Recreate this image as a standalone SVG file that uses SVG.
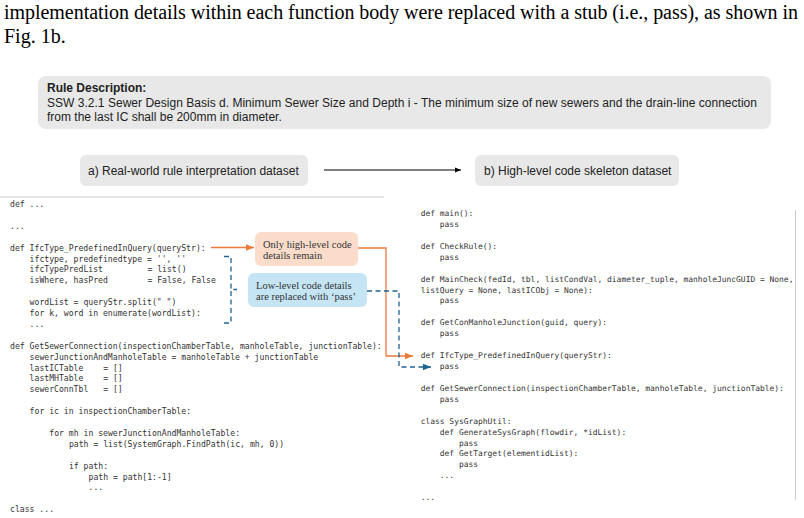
<svg xmlns="http://www.w3.org/2000/svg" width="804" height="518" viewBox="0 0 804 518">
<style>
.para{font-family:"Liberation Serif","Times New Roman",serif;font-size:20px;fill:#000}
.sans{font-family:"Liberation Sans",Arial,sans-serif;font-size:12px;fill:#222}
.bold{font-weight:bold}
.code{font-family:"DejaVu Sans Mono",monospace;fill:#333}
.lc{font-size:8.15px}
.rc{font-size:7.95px}
.note{font-family:"Liberation Serif","Times New Roman",serif;font-size:10.5px;fill:#333}
.gbox{fill:#e8e8e8}
</style>
<defs>
<marker id="ao" viewBox="0 0 10 10" refX="10" refY="5" markerWidth="8" markerHeight="8" markerUnits="userSpaceOnUse" orient="auto"><path d="M0,1 L10,5 L0,9 z" fill="#ec7a3a"/></marker>
<marker id="ab" viewBox="0 0 10 10" refX="10" refY="5" markerWidth="8" markerHeight="8" markerUnits="userSpaceOnUse" orient="auto"><path d="M0,1 L10,5 L0,9 z" fill="#1f6391"/></marker>
<marker id="ak" viewBox="0 0 10 10" refX="10" refY="5" markerWidth="6" markerHeight="6" markerUnits="userSpaceOnUse" orient="auto"><path d="M0,1 L10,5 L0,9 z" fill="#000"/></marker>
</defs>

<g id="paragraph">
<text class="para" x="4" y="19" textLength="794" lengthAdjust="spacing">implementation details within each function body were replaced with a stub (i.e., pass), as shown in</text>
<text class="para" x="4" y="43">Fig. 1b.</text>
</g>

<g id="rule">
<rect class="gbox" x="38" y="76" width="733" height="53" rx="8"/>
<text class="sans bold" x="47" y="92">Rule Description:</text>
<text class="sans" x="47" y="106.5" textLength="710" lengthAdjust="spacing">SSW 3.2.1 Sewer Design Basis d. Minimum Sewer Size and Depth i - The minimum size of new sewers and the drain-line connection</text>
<text class="sans" x="47" y="121">from the last IC shall be 200mm in diameter.</text>
</g>

<g id="dataset-a">
<rect class="gbox" x="80" y="155" width="228" height="31" rx="6"/>
<text class="sans" x="88" y="174.5">a) Real-world rule interpretation dataset</text>
</g>
<g id="dataset-b">
<rect class="gbox" x="475" y="155" width="204" height="31" rx="6"/>
<text class="sans" x="484" y="174.5">b) High-level code skeleton dataset</text>
</g>

<g id="frames">
<line x1="0" y1="197" x2="384" y2="197" stroke="#cfcfcf" stroke-width="1"/>
<line x1="795.5" y1="210" x2="795.5" y2="500" stroke="#cfcfcf" stroke-width="1"/>
</g>

<g id="code-left" class="code lc">
<text x="10" y="207">def ...</text>
<text x="10" y="228.8">...</text>
<text x="10" y="250.6">def IfcType_PredefinedInQuery(queryStr):</text>
<text x="29.6" y="261.5">ifctype, predefinedtype = '', ''</text>
<text x="29.6" y="272.4">ifcTypePredList<tspan x="147.4">= list()</tspan></text>
<text x="29.6" y="283.3">isWhere, hasPred<tspan x="147.4">= False, False</tspan></text>
<text x="29.6" y="305.1">wordList = queryStr.split(" ")</text>
<text x="29.6" y="316">for k, word in enumerate(wordList):</text>
<text x="29.6" y="326.9">...</text>
<text x="10" y="348.7">def GetSewerConnection(inspectionChamberTable, manholeTable, junctionTable):</text>
<text x="29.6" y="359.6">sewerJunctionAndManholeTable = manholeTable + junctionTable</text>
<text x="29.6" y="370.5">lastICTable<tspan x="103.2">= []</tspan></text>
<text x="29.6" y="381.4">lastMHTable<tspan x="103.2">= []</tspan></text>
<text x="29.6" y="392.3">sewerConnTbl<tspan x="103.2">= []</tspan></text>
<text x="29.6" y="414.1">for ic in inspectionChamberTable:</text>
<text x="49.25" y="435.9">for mh in sewerJunctionAndManholeTable:</text>
<text x="68.9" y="446.8">path = list(SystemGraph.FindPath(ic, mh, 0))</text>
<text x="68.9" y="468.6">if path:</text>
<text x="88.5" y="479.5">path = path[1:-1]</text>
<text x="88.5" y="490.4">...</text>
<text x="10" y="512.2">class ...</text>
</g>

<g id="code-right" class="code rc">
<text x="420.7" y="216">def main():</text>
<text x="439.8" y="226.9">pass</text>
<text x="420.7" y="248.8">def CheckRule():</text>
<text x="439.8" y="259.7">pass</text>
<text x="420.7" y="281.6">def MainCheck(fedId, tbl, listCondVal, diameter_tuple, manholeJuncGUID = None,</text>
<text x="420.7" y="292.5">listQuery = None, lastICObj = None):</text>
<text x="439.8" y="303.4">pass</text>
<text x="420.7" y="325.3">def GetConManholeJunction(guid, query):</text>
<text x="439.8" y="336.2">pass</text>
<text x="420.7" y="358.1">def IfcType_PredefinedInQuery(queryStr):</text>
<text x="439.8" y="369">pass</text>
<text x="420.7" y="390.9">def GetSewerConnection(inspectionChamberTable, manholeTable, junctionTable):</text>
<text x="439.8" y="401.8">pass</text>
<text x="420.7" y="423.7">class SysGraphUtil:</text>
<text x="439.8" y="434.6">def GenerateSysGraph(flowdir, *idList):</text>
<text x="459" y="445.5">pass</text>
<text x="439.8" y="456.4">def GetTarget(elementidList):</text>
<text x="459" y="467.3">pass</text>
<text x="439.8" y="478.2">...</text>
<text x="420.7" y="500.1">...</text>
</g>

<g id="note-high">
<rect x="255" y="232" width="103" height="34" rx="6" fill="#fbdccb"/>
<text class="note" x="263" y="247.5">Only high-level code</text>
<text class="note" x="263" y="258.5">details remain</text>
</g>
<g id="note-low">
<rect x="248" y="273" width="119" height="34" rx="6" fill="#c5e5f5"/>
<text class="note" x="256" y="288.5">Low-level code details</text>
<text class="note" x="256" y="299.5">are replaced with ‘pass’</text>
</g>

<g id="connectors" fill="none">
<line x1="324" y1="170" x2="461" y2="170" stroke="#000" stroke-width="1" marker-end="url(#ak)"/>
<line x1="211" y1="247.5" x2="254" y2="247.5" stroke="#ec7a3a" stroke-width="1.3" marker-end="url(#ao)"/>
<polyline points="358,248 386,248 386,356 413,356" stroke="#ec7a3a" stroke-width="1.3" marker-end="url(#ao)"/>
<polyline points="367,291 399,291 399,367 431,367" stroke="#1f6391" stroke-width="1.3" stroke-dasharray="5,3.5" marker-end="url(#ab)"/>
<path d="M224,256.5 H231 V289.5 H237 M231,291 V323 H224" stroke="#1f6391" stroke-width="1.3" stroke-dasharray="5,3.5"/>
</g>
</svg>
